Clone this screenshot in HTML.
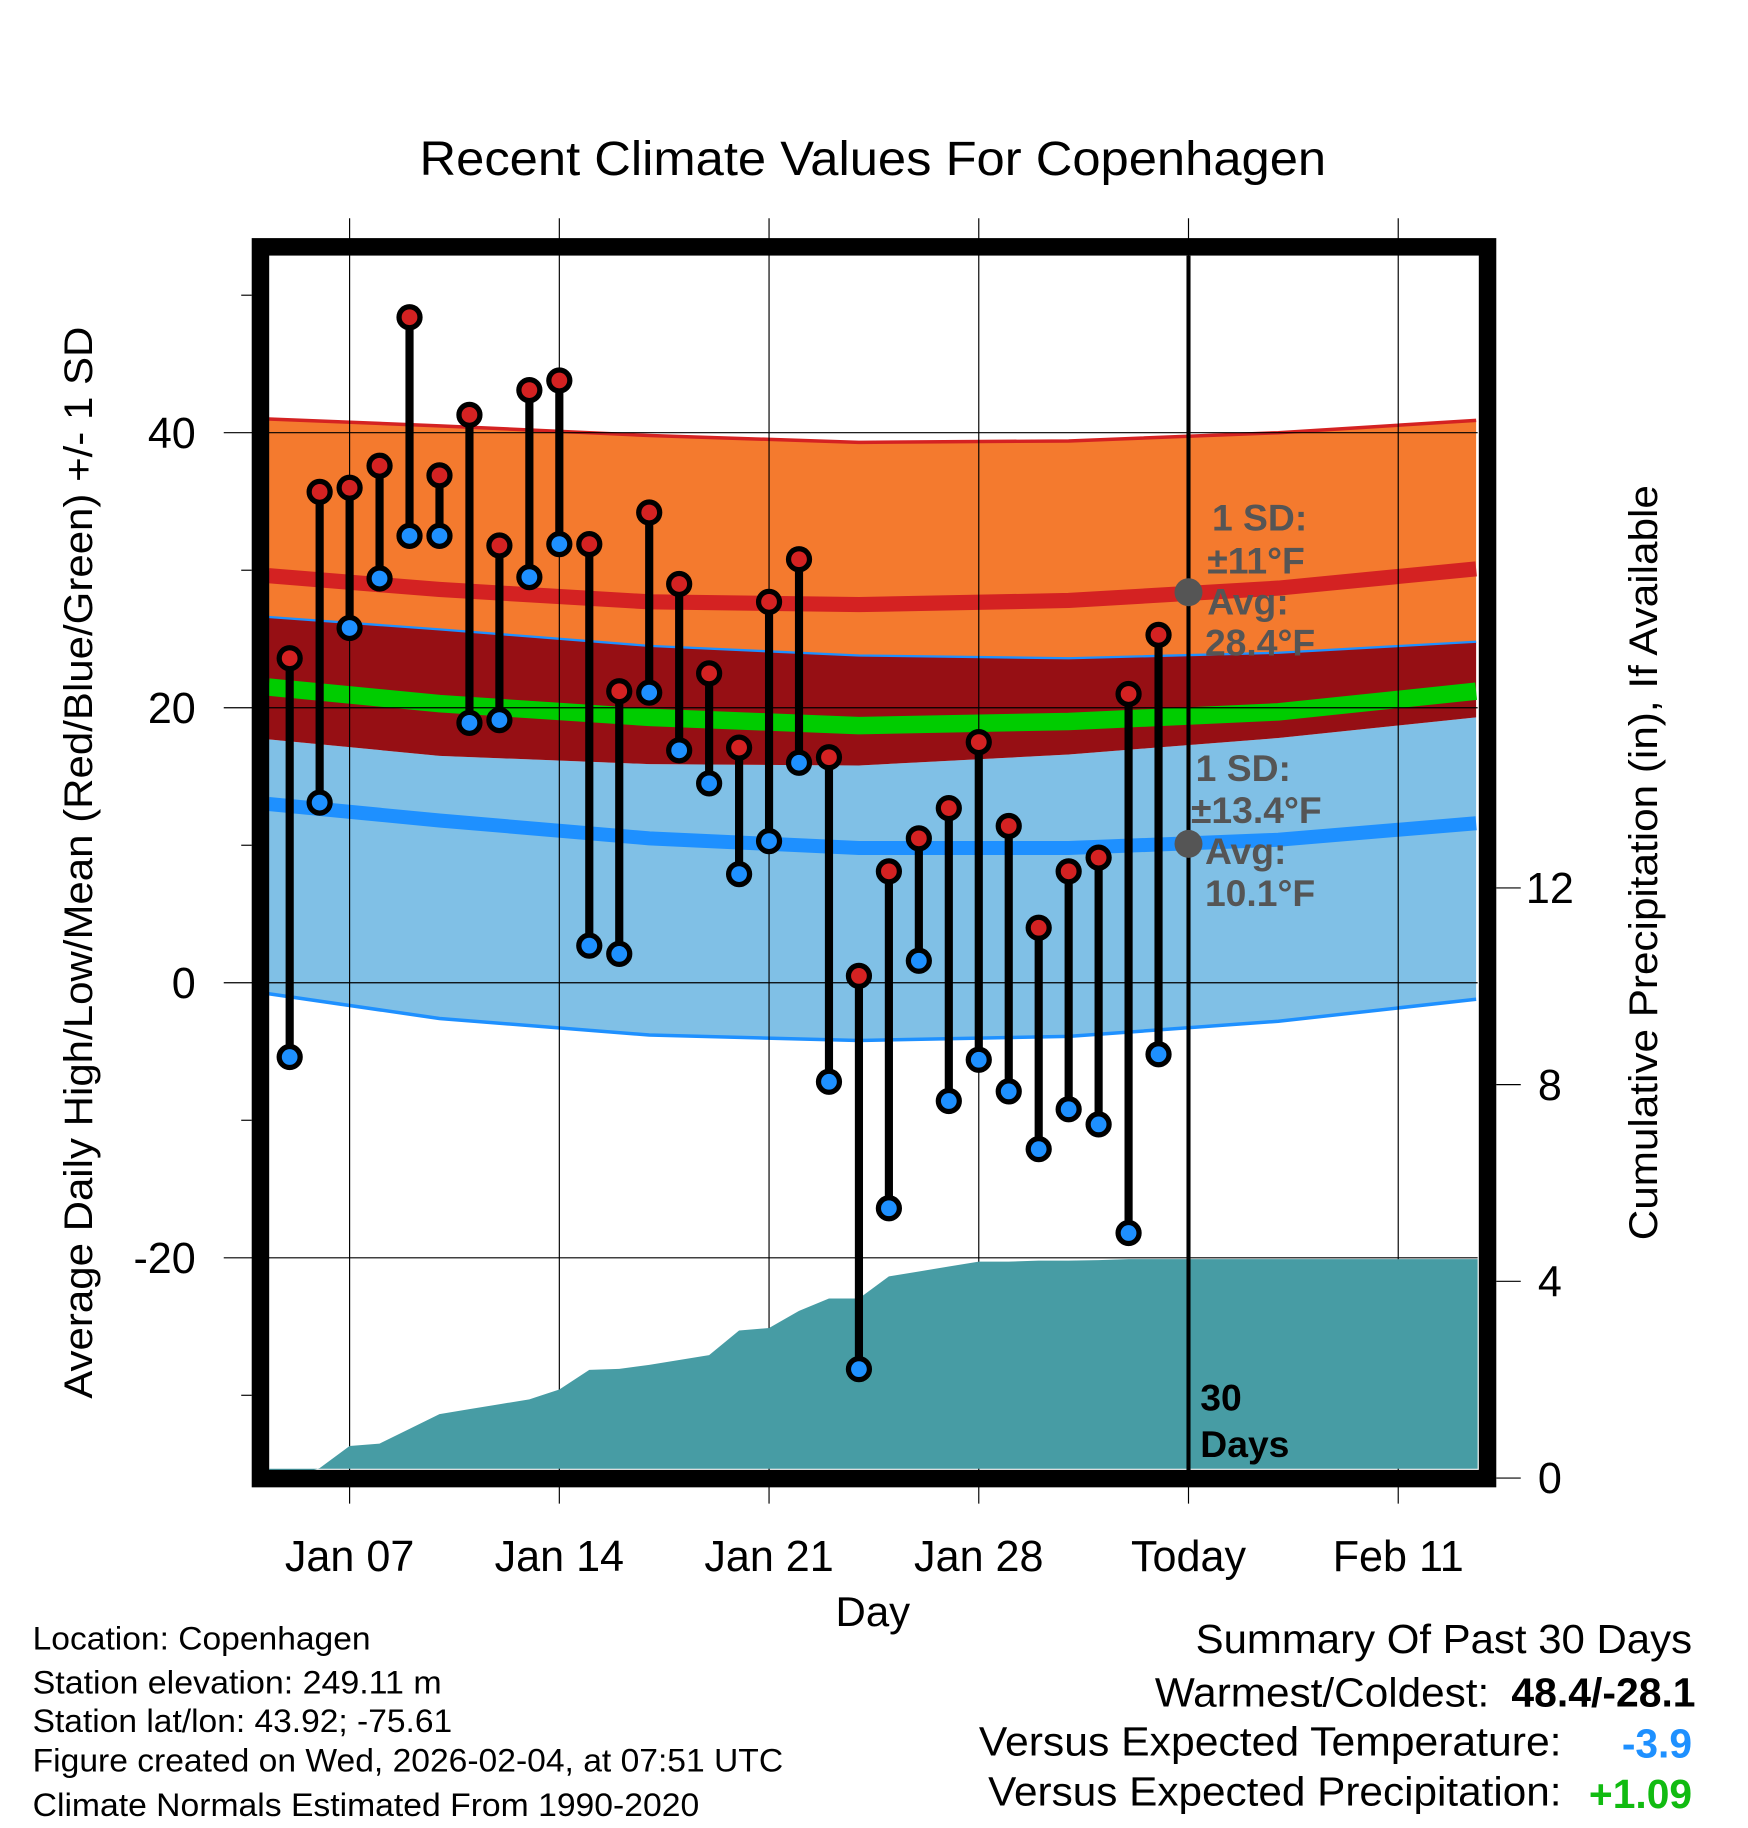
<!DOCTYPE html>
<html><head><meta charset="utf-8"><style>
html,body{margin:0;padding:0;background:#fff}
svg{display:block;font-family:"Liberation Sans",Arial,sans-serif}
</style></head><body>
<svg id="chart" width="1748" height="1828" viewBox="0 0 1500 1568" xmlns="http://www.w3.org/2000/svg">
<rect width="1500" height="1568" fill="#fff"/>
<g id="bands"></g>
<g id="grid"></g>
<g id="precip"></g>
<g id="marks"></g>
<g id="frame"></g>
<text x="749" y="150" font-size="41" text-anchor="middle" textLength="778" lengthAdjust="spacingAndGlyphs">Recent Climate Values For Copenhagen</text>
<text transform="translate(79,740) rotate(-90)" font-size="34" text-anchor="middle" textLength="920" lengthAdjust="spacingAndGlyphs">Average Daily High/Low/Mean (Red/Blue/Green) +/- 1 SD</text>
<text transform="translate(1422,740) rotate(-90)" font-size="34" text-anchor="middle" textLength="648" lengthAdjust="spacingAndGlyphs">Cumulative Precipitation (in), If Available</text>
<text x="749" y="1395" font-size="36" text-anchor="middle">Day</text>
<g font-size="32" font-weight="bold" fill="#555">
<text x="1040" y="455">1 SD:</text><text x="1036" y="492">±11°F</text><text x="1036" y="527">Avg:</text><text x="1034" y="562">28.4°F</text></g>
<g font-size="32" font-weight="bold" fill="#555">
<text x="1026" y="670">1 SD:</text><text x="1022" y="706">±13.4°F</text><text x="1034" y="741">Avg:</text><text x="1034" y="777">10.1°F</text></g>
<g font-size="32" font-weight="bold"><text x="1030" y="1210">30</text><text x="1030" y="1250">Days</text></g>
<g font-size="28">
<text x="28" y="1415" textLength="290" lengthAdjust="spacingAndGlyphs">Location: Copenhagen</text>
<text x="28" y="1453" textLength="351" lengthAdjust="spacingAndGlyphs">Station elevation: 249.11 m</text>
<text x="28" y="1486" textLength="360" lengthAdjust="spacingAndGlyphs">Station lat/lon: 43.92; -75.61</text>
<text x="28" y="1520" textLength="644" lengthAdjust="spacingAndGlyphs">Figure created on Wed, 2026-02-04, at 07:51 UTC</text>
<text x="28" y="1558" textLength="572" lengthAdjust="spacingAndGlyphs">Climate Normals Estimated From 1990-2020</text></g>
<g font-size="35" text-anchor="end">
<text x="1452" y="1418" textLength="426" lengthAdjust="spacingAndGlyphs">Summary Of Past 30 Days</text>
<text x="1278" y="1464" textLength="287" lengthAdjust="spacingAndGlyphs">Warmest/Coldest:</text><text x="1455" y="1464" font-weight="bold" textLength="158" lengthAdjust="spacingAndGlyphs">48.4/-28.1</text>
<text x="1340" y="1506" textLength="500" lengthAdjust="spacingAndGlyphs">Versus Expected Temperature:</text><text x="1452" y="1508" font-weight="bold" fill="#1e90ff">-3.9</text>
<text x="1340" y="1549" textLength="492" lengthAdjust="spacingAndGlyphs">Versus Expected Precipitation:</text><text x="1452" y="1551" font-weight="bold" fill="#11bb11">+1.09</text></g>
</svg>
<script>
const days=[5,6,7,8,9,10,11,12,13,14,15,16,17,18,19,20,21,22,23,24,25,26,27,28,29,30,31,32,33,34];
const highs=[23.6,35.7,36.0,37.6,48.4,36.9,41.3,31.8,43.1,43.8,31.9,21.2,34.2,29.0,22.5,17.1,27.7,30.8,16.4,0.5,8.1,10.5,12.7,17.5,11.4,4.0,8.1,9.1,21.0,25.3];
const lows=[-5.4,13.1,25.8,29.4,32.5,32.5,18.9,19.1,29.5,31.9,2.7,2.1,21.1,16.9,14.5,7.9,10.3,16.0,-7.2,-28.1,-16.4,1.6,-8.6,-5.6,-7.9,-12.1,-9.2,-10.3,-18.2,-5.2];
const precip=[0,0.2,0.65,0.7,1.0,1.3,1.4,1.5,1.6,1.8,2.2,2.22,2.3,2.4,2.5,3.0,3.05,3.4,3.65,3.65,4.1,4.2,4.3,4.4,4.4,4.42,4.42,4.43,4.45,4.45];
const normDays=[4.3,10,17,24,31,38,44.6];
const highTop=[41,40.5,39.8,39.3,39.4,40.0,40.9];
const highAvg=[29.6,28.6,27.7,27.5,27.8,28.7,30.1];
const highBot=[26.6,25.7,24.5,23.8,23.6,24.0,24.8];
const meanAvg=[21.5,20.3,19.3,18.7,19.0,19.7,21.2];
const lowTop=[17.7,16.5,15.9,15.8,16.6,17.8,19.3];
const lowAvg=[13.0,11.8,10.5,9.8,9.8,10.4,11.6];
const lowBot=[-0.8,-2.6,-3.8,-4.2,-3.9,-2.8,-1.2];
const yTicks=[40,20,0,-20];
const yMinor=[50,30,10,-10,-30];
const pTicks=[0,4,8,12];
const xTickDays=[7,14,21,28,35,42];
const xTickLabels=["Jan 07","Jan 14","Jan 21","Jan 28","Today","Feb 11"];
const todayDay=35, highNormToday=28.4, lowNormToday=10.1;

const NS="http://www.w3.org/2000/svg";
const X=d=>300+(d-7)*25.71;
const Y=v=>843-11.8*v;
const P=v=>1268-42.2*v;
const L=231,R=1268,T=219,B=1260;
const svg=document.getElementById('chart');
function mk(tag,attrs,parent){const e=document.createElementNS(NS,tag);for(const k in attrs)e.setAttribute(k,attrs[k]);parent.appendChild(e);return e;}
function pts(arr){return normDays.map((d,i)=>[X(d),Y(arr[i])]);}
function pline(arr){return pts(arr).map(p=>p.join(",")).join(" ");}
function area(top,bot){const a=pts(top),b=pts(bot).reverse();return a.concat(b).map(p=>p.join(",")).join(" ");}
const bands=document.getElementById('bands');
let e;
e=mk('polygon',{points:area(lowTop,lowBot),fill:'#80c0e6'},bands);

e=mk('polygon',{points:area(highTop,highBot),fill:'#f47a2e'},bands);

e=mk('polygon',{points:area(highBot,lowTop),fill:'#960f14'},bands);

e=mk('polyline',{points:pline(highTop),fill:'none',stroke:'#d42222','stroke-width':3},bands);

e=mk('polyline',{points:pline(highAvg),fill:'none',stroke:'#d42222','stroke-width':13},bands);

e=mk('polyline',{points:pline(highBot),fill:'none',stroke:'#1e90ff','stroke-width':2},bands);

e=mk('polyline',{points:pline(meanAvg),fill:'none',stroke:'#00cc00','stroke-width':15},bands);

e=mk('polyline',{points:pline(lowAvg),fill:'none',stroke:'#1e90ff','stroke-width':12},bands);

e=mk('polyline',{points:pline(lowBot),fill:'none',stroke:'#1e90ff','stroke-width':3},bands);


const pg=document.getElementById('precip');
let pp=[[L,P(0)]];days.forEach((d,i)=>pp.push([X(d),P(precip[i])]));pp.push([R,P(precip[precip.length-1])]);pp.push([R,B]);pp.push([L,B]);
e=mk('polygon',{points:pp.map(p=>p.join(",")).join(" "),fill:'#479ca4'},pg);


const grid=document.getElementById('grid');
xTickDays.forEach((d,i)=>{
  e=mk('line',{x1:X(d),x2:X(d),y1:187,y2:1290,stroke:'#000','stroke-width':1},grid);
  
  e=mk('text',{x:X(d),y:1348,'font-size':37,'text-anchor':'middle'},svg);
  e.textContent=xTickLabels[i];
  
});
yTicks.forEach(v=>{
  e=mk('line',{x1:192,x2:R,y1:Y(v),y2:Y(v),stroke:'#000','stroke-width':1},grid);
  
  e=mk('text',{x:168,y:Y(v)+13,'font-size':37,'text-anchor':'end'},svg);
  e.textContent=v;
  
});
yMinor.forEach(v=>{
  e=mk('line',{x1:207,x2:216,y1:Y(v),y2:Y(v),stroke:'#000','stroke-width':1},grid);
  
});
pTicks.forEach(v=>{
  e=mk('line',{x1:1284,x2:1305,y1:P(v),y2:P(v),stroke:'#000','stroke-width':1},grid);
  
  e=mk('text',{x:1330,y:P(v)+13,'font-size':37,'text-anchor':'middle'},svg);
  e.textContent=v;
  
});

const marks=document.getElementById('marks');
days.forEach((d,i)=>{
  const x=X(d);
  e=mk('line',{x1:x,x2:x,y1:Y(highs[i]),y2:Y(lows[i]),stroke:'#000','stroke-width':7},marks);
  
});
days.forEach((d,i)=>{
  const x=X(d);
  e=mk('circle',{cx:x,cy:Y(highs[i]),r:9,fill:'#d42222',stroke:'#000','stroke-width':4.5},marks);
  
  e=mk('circle',{cx:x,cy:Y(lows[i]),r:9,fill:'#1e90ff',stroke:'#000','stroke-width':4.5},marks);
  
});
const fr=document.getElementById('frame');
e=mk('line',{x1:X(todayDay),x2:X(todayDay),y1:219,y2:1262,stroke:'#000','stroke-width':3.5},fr);

e=mk('circle',{cx:X(todayDay),cy:Y(highNormToday),r:12,fill:'#555'},fr);

e=mk('circle',{cx:X(todayDay),cy:Y(lowNormToday),r:12,fill:'#555'},fr);

e=mk('rect',{x:223.5,y:211.5,width:1053,height:1057,fill:'none',stroke:'#000','stroke-width':15},fr);

</script>
</body></html>
